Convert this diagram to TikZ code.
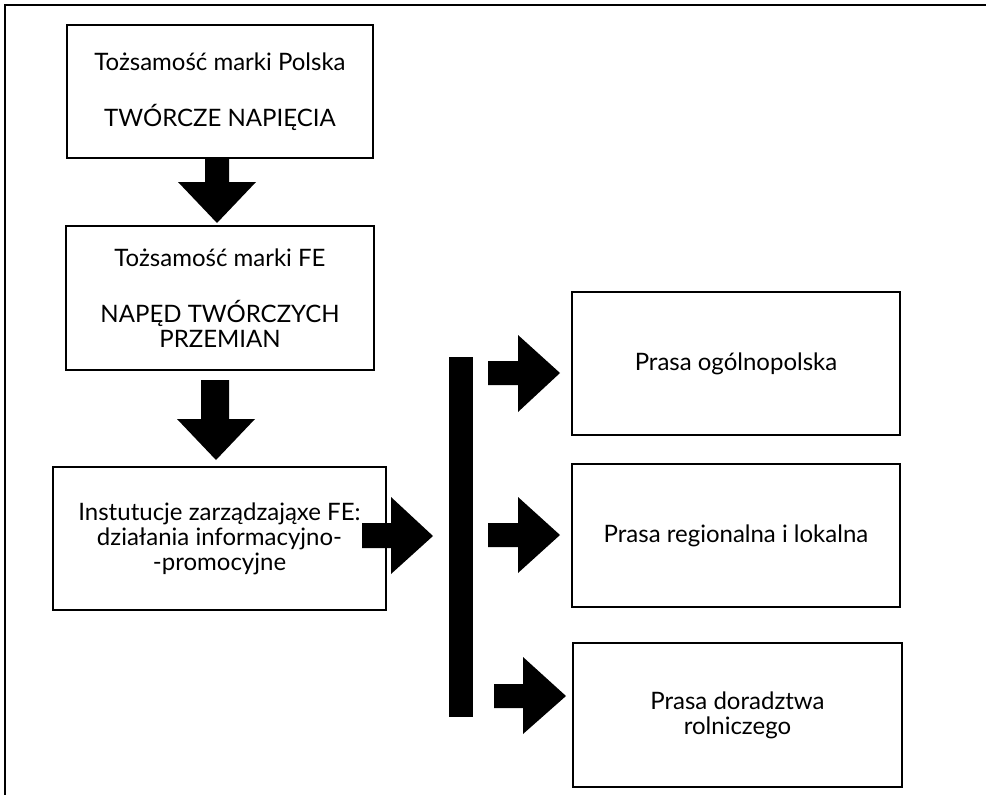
\documentclass[tikz,border=0pt]{standalone}
\usepackage{fontspec}
\setmainfont{Lato}
\begin{document}
\begin{tikzpicture}[x=1pt,y=-1pt,
  box/.style={draw=black, line width=1.8pt, fill=white, inner sep=0pt, align=center,
    font=\fontsize{24}{25}\selectfont},
  blockarrow/.style={fill=black, draw=none}]
\useasboundingbox (0,0) rectangle (986,795);
\clip (0,0) rectangle (986,795);
\draw[line width=2.6pt] (5,1000) -- (5,5) -- (1000,5);

\node[box, minimum width=306pt, minimum height=133pt] (b1) at (220,91.5)
  {Tożsamość marki Polska\\[31pt]TWÓRCZE NAPIĘCIA};
\node[box, minimum width=308pt, minimum height=144pt] (b2) at (220,298)
  {Tożsamość marki FE\\[31pt]NAPĘD TWÓRCZYCH\\PRZEMIAN};
\node[box, minimum width=333pt, minimum height=143pt] (b3) at (219.5,538.5)
  {Instutucje zarządzająxe FE:\\działania informacyjno-\\-promocyjne};
\node[box, minimum width=328pt, minimum height=143pt] (b4) at (736,363.5)
  {Prasa ogólnopolska};
\node[box, minimum width=328pt, minimum height=143pt] (b5) at (736,535.5)
  {Prasa regionalna i lokalna};
\node[box, minimum width=329pt, minimum height=144pt] (b6) at (737.5,715)
  {Prasa doradztwa\\rolniczego};

% vertical bar
\fill (449,357) rectangle (473,717);

% down arrows
\fill[blockarrow] (205,159) -- (229,159) -- (229,182) -- (256,182) -- (217,223) -- (178,182) -- (205,182) -- cycle;
\fill[blockarrow] (201,380) -- (229,380) -- (229,419) -- (255,419) -- (216,460) -- (177,419) -- (201,419) -- cycle;
% right arrow from b3
\fill[blockarrow] (362,523) -- (391,523) -- (391,497) -- (433,536) -- (391,574) -- (391,548) -- (362,548) -- cycle;
% right arrows to press boxes
\fill[blockarrow] (488,361) -- (518,361) -- (518,335) -- (560,373) -- (518,412) -- (518,385) -- (488,385) -- cycle;
\fill[blockarrow] (488,523) -- (518,523) -- (518,497) -- (560,535) -- (518,573) -- (518,547) -- (488,547) -- cycle;
\fill[blockarrow] (494,684) -- (523,684) -- (523,657) -- (566,696) -- (523,734) -- (523,708) -- (494,708) -- cycle;
\end{tikzpicture}
\end{document}
